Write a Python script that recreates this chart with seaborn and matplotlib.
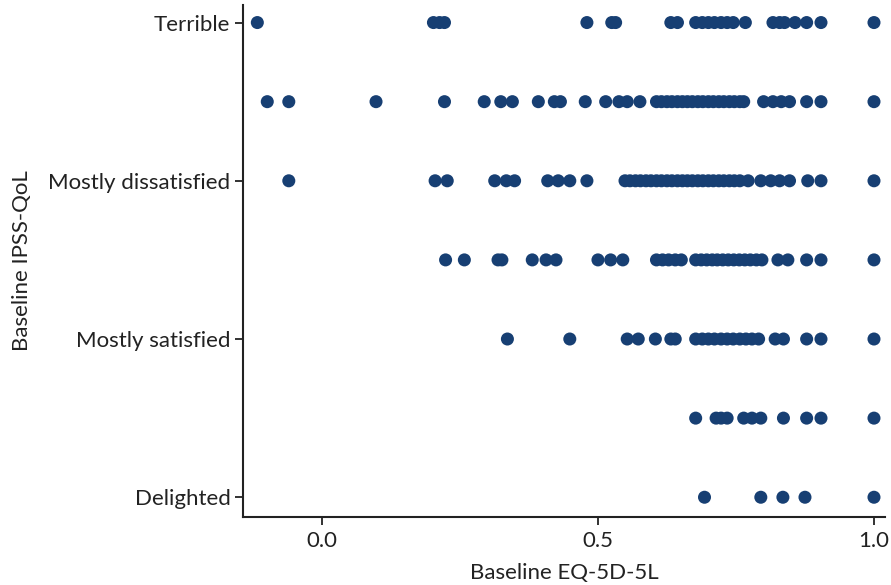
import matplotlib
matplotlib.use("Agg")
import matplotlib.pyplot as plt
import seaborn as sns
import pandas as pd

categories = ["Delighted", "Pleased", "Mostly satisfied", "Mixed",
              "Mostly dissatisfied", "Unhappy", "Terrible"]
tick_labels = ["Delighted", "Mostly satisfied", "Mostly dissatisfied", "Terrible"]

delighted = [0.693, 0.795, 0.835, 0.875, 1.0]
pleased = [0.677, 0.714, 0.723, 0.734, 0.764, 0.779, 0.795, 0.836, 0.878, 0.904, 1.0]
mostly_satisfied = [0.336, 0.449, 0.553, 0.573, 0.604, 0.632, 0.640, 0.677, 0.689,
                    0.700, 0.711, 0.723, 0.734, 0.745, 0.757, 0.768, 0.779, 0.791,
                    0.821, 0.836, 0.878, 0.904, 1.0]
mixed = [0.224, 0.258, 0.319, 0.326, 0.381, 0.406, 0.424, 0.500, 0.523, 0.545,
         0.606, 0.617, 0.628, 0.640, 0.651, 0.677, 0.687, 0.697, 0.707, 0.716,
         0.726, 0.736, 0.746, 0.756, 0.766, 0.776, 0.787, 0.797, 0.826, 0.844,
         0.878, 0.904, 1.0]
mostly_dissatisfied = [-0.060, 0.205, 0.227, 0.313, 0.334, 0.349, 0.409, 0.428,
                       0.449, 0.480, 0.549, 0.558, 0.568, 0.577, 0.587, 0.596,
                       0.606, 0.615, 0.625, 0.634, 0.644, 0.653, 0.662, 0.671,
                       0.681, 0.690, 0.700, 0.709, 0.719, 0.728, 0.738, 0.747,
                       0.757, 0.772, 0.795, 0.813, 0.829, 0.847, 0.880, 0.904, 1.0]
unhappy = [-0.099, -0.060, 0.098, 0.222, 0.294, 0.324, 0.345, 0.392, 0.421, 0.432,
           0.477, 0.514, 0.538, 0.553, 0.576, 0.606, 0.615, 0.625, 0.634, 0.644,
           0.653, 0.662, 0.671, 0.681, 0.690, 0.700, 0.709, 0.719, 0.728, 0.738,
           0.747, 0.757, 0.764, 0.800, 0.817, 0.832, 0.847, 0.878, 0.904, 1.0]
terrible = [-0.117, 0.202, 0.213, 0.222, 0.480, 0.525, 0.532, 0.632, 0.644, 0.677,
            0.689, 0.700, 0.711, 0.723, 0.734, 0.745, 0.767, 0.817, 0.829, 0.838,
            0.857, 0.878, 0.904, 1.0]

series = [delighted, pleased, mostly_satisfied, mixed, mostly_dissatisfied, unhappy, terrible]
rows = []
for level, vals in enumerate(series):
    for v in vals:
        rows.append({"eq5d": v, "ipss": level})
df = pd.DataFrame(rows)

sns.set_theme(style="ticks")
plt.rcParams["font.family"] = ["Lato", "DejaVu Sans"]

fig = plt.figure(figsize=(8.91, 5.85), dpi=100)
ax = fig.add_axes([0.2727, 0.1162, 0.7206, 0.875])
sns.scatterplot(data=df, x="eq5d", y="ipss", ax=ax, color="#173f73",
                s=88, edgecolor="none", linewidth=0)

ax.set_xlim(-0.143, 1.02)
ax.set_ylim(-0.25, 6.22)
ax.set_xticks([0.0, 0.5, 1.0])
ax.set_xticklabels(["0.0", "0.5", "1.0"])
ax.set_yticks([0, 2, 4, 6])
ax.set_yticklabels(tick_labels)
ax.tick_params(axis="both", labelsize=16, colors="#222222", width=1.3, length=6,
               labelcolor="#222222", pad=3)
ax.tick_params(axis="x", pad=4)
ax.set_xlabel("Baseline EQ-5D-5L", fontsize=16, color="#222222", labelpad=9)
ax.set_ylabel("Baseline IPSS-QoL", fontsize=16, color="#222222", labelpad=12)
for side in ["top", "right"]:
    ax.spines[side].set_visible(False)
for side in ["left", "bottom"]:
    ax.spines[side].set_linewidth(1.5)
    ax.spines[side].set_color("#222222")

fig.savefig("out.png", dpi=100)
